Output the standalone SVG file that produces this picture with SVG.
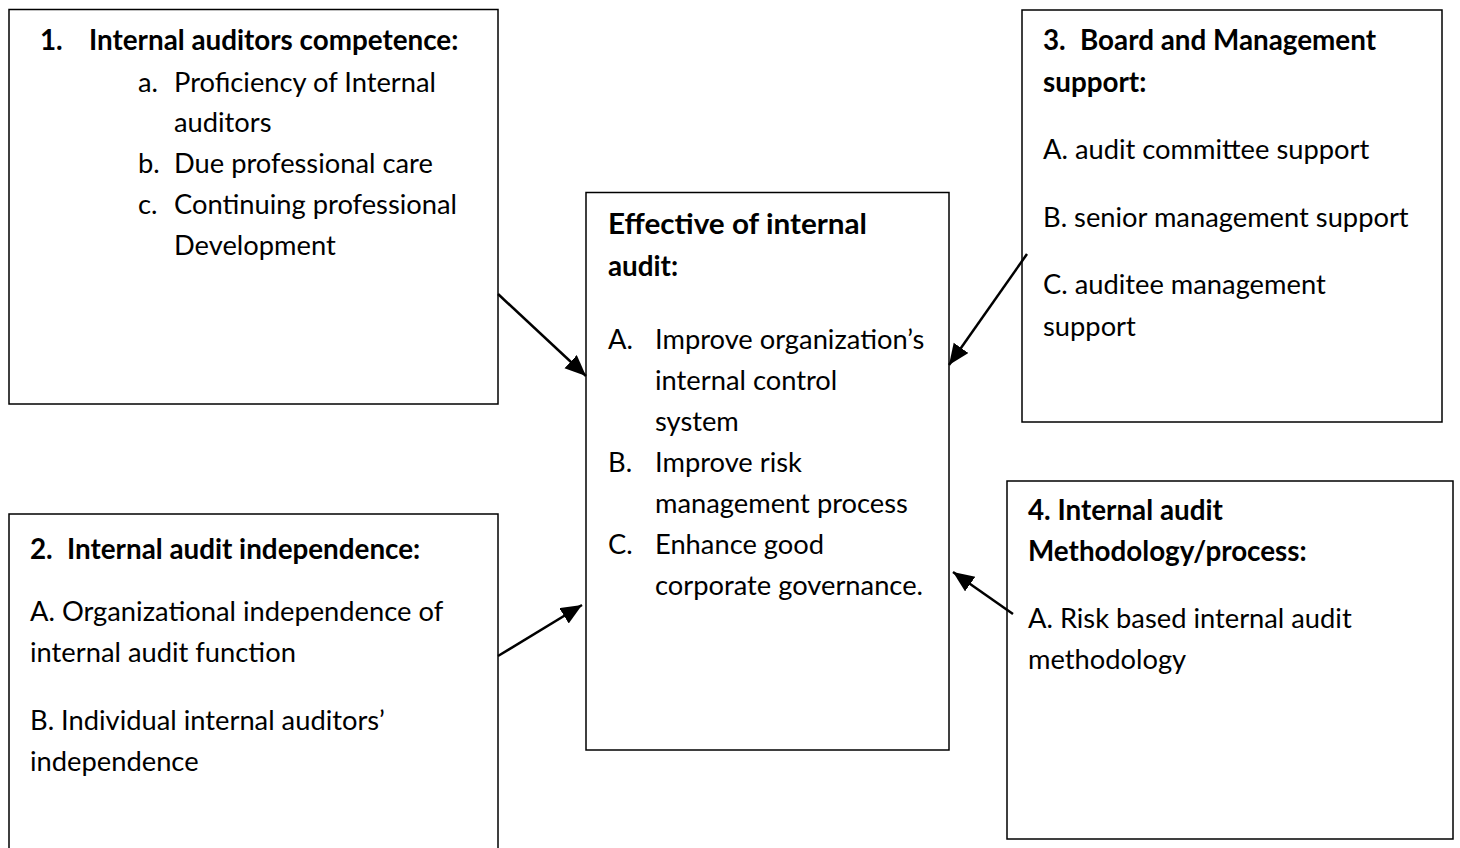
<svg xmlns="http://www.w3.org/2000/svg" width="1460" height="848" viewBox="0 0 1460 848">
<defs>
<style>
.box{fill:#fff;stroke:#000;stroke-width:1.5}
.t{font-family:Lato,"Liberation Sans",sans-serif;font-size:27.3px;fill:#000}
.b{font-weight:bold;font-size:27.8px}
.c{stroke:#000;stroke-width:2.5;fill:none;marker-end:url(#ah)}
</style>
<marker id="ah" markerUnits="userSpaceOnUse" markerWidth="24" markerHeight="20" refX="21" refY="9" orient="auto">
<path d="M0,0 L21,9 L0,18 Z" fill="#000"/>
</marker>
</defs>
<rect width="1460" height="848" fill="#fff"/>
<g id="node-competence">
<rect class="box" x="9" y="9.5" width="489" height="394.5"/>
<text class="t b" x="40" y="50">1.</text>
<text class="t b" x="89" y="50">Internal auditors competence:</text>
<text class="t" x="138" y="92">a.</text>
<text class="t" x="174" y="92">Proficiency of Internal</text>
<text class="t" x="174" y="132">auditors</text>
<text class="t" x="138" y="173">b.</text>
<text class="t" x="174" y="173">Due professional care</text>
<text class="t" x="138" y="214">c.</text>
<text class="t" x="174" y="214">Continuing professional</text>
<text class="t" x="174" y="255">Development</text>
</g>
<g id="node-independence">
<rect class="box" x="9" y="514" width="489" height="340"/>
<text class="t b" x="30" y="559">2.</text>
<text class="t b" x="67" y="559">Internal audit independence:</text>
<text class="t" x="30" y="621">A. Organizational independence of</text>
<text class="t" x="30" y="662">internal audit function</text>
<text class="t" x="30" y="730">B. Individual internal auditors’</text>
<text class="t" x="30" y="771">independence</text>
</g>
<g id="node-effective">
<rect class="box" x="586" y="192.5" width="363" height="557.5"/>
<text class="t b" x="608" y="234" textLength="259" lengthAdjust="spacingAndGlyphs">Effective of internal</text>
<text class="t b" x="608" y="276">audit:</text>
<text class="t" x="608" y="349">A.</text>
<text class="t" x="655" y="349">Improve organization’s</text>
<text class="t" x="655" y="390">internal control</text>
<text class="t" x="655" y="431">system</text>
<text class="t" x="608" y="472">B.</text>
<text class="t" x="655" y="472">Improve risk</text>
<text class="t" x="655" y="513">management process</text>
<text class="t" x="608" y="554">C.</text>
<text class="t" x="655" y="554">Enhance good</text>
<text class="t" x="655" y="595">corporate governance.</text>
</g>
<g id="node-board">
<rect class="box" x="1022" y="10" width="420" height="412"/>
<text class="t b" x="1043" y="50">3.</text>
<text class="t b" x="1080" y="50">Board and Management</text>
<text class="t b" x="1043" y="92">support:</text>
<text class="t" x="1043" y="159">A. audit committee support</text>
<text class="t" x="1043" y="227">B. senior management support</text>
<text class="t" x="1043" y="294">C. auditee management</text>
<text class="t" x="1043" y="336">support</text>
</g>
<g id="node-methodology">
<rect class="box" x="1007" y="481" width="446" height="358"/>
<text class="t b" x="1028" y="520">4. Internal audit</text>
<text class="t b" x="1028" y="561">Methodology/process:</text>
<text class="t" x="1028" y="628">A. Risk based internal audit</text>
<text class="t" x="1028" y="669">methodology</text>
</g>
<g id="connectors">
<line class="c" x1="498" y1="294" x2="586" y2="376"/>
<line class="c" x1="498" y1="656" x2="582" y2="605"/>
<line class="c" x1="1027" y1="254" x2="949" y2="365"/>
<line class="c" x1="1013" y1="614" x2="953" y2="572"/>
</g>
</svg>
